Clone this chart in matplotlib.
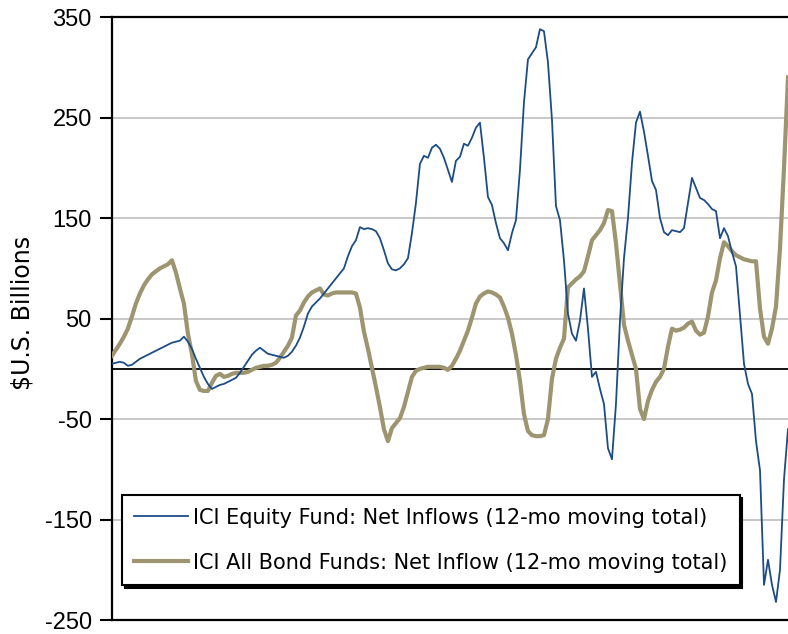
# -*- coding: utf-8 -*-

import numpy as np
import matplotlib.pyplot as plt

plt.rcParams['font.family'] = ['Liberation Sans', 'DejaVu Sans']
plt.rcParams['axes.unicode_minus'] = False

# 12-month moving totals, $ billions, evenly spaced in time
equity_flows = [5, 6, 7, 6, 3, 4, 7, 10, 12, 14,
                16, 18, 20, 22, 24, 26, 27, 28, 32, 27,
                20, 10, 1, -8, -15, -20, -18, -16, -15, -13,
                -11, -9, -4, 2, 8, 14, 18, 21, 18, 15,
                14, 13, 12, 11, 13, 17, 23, 31, 42, 55,
                62, 66, 70, 75, 80, 85, 90, 95, 100, 112,
                122, 128, 141, 139, 140, 139, 137, 130, 118, 105,
                99, 98, 100, 104, 110, 135, 165, 204, 212, 210,
                220, 223, 219, 210, 198, 186, 207, 211, 224, 222,
                230, 240, 245, 210, 171, 163, 145, 130, 125, 118,
                135, 148, 198, 265, 308, 314, 320, 338, 336, 305,
                248, 162, 148, 108, 55, 35, 28, 48, 80, 40,
                -8, -3, -20, -35, -79, -90, -35, 48, 110, 150,
                205, 245, 256, 236, 212, 187, 178, 150, 136, 133,
                138, 137, 136, 140, 165, 190, 180, 170, 168, 164,
                159, 157, 130, 140, 132, 116, 102, 54, 5, -15,
                -25, -72, -101, -215, -190, -215, -232, -200, -110, -60]

bond_flows = [13, 19, 25, 32, 40, 52, 65, 75, 83, 89,
              94, 97, 100, 102, 104, 108, 96, 80, 65, 35,
              15, -12, -21, -22, -22, -14, -7, -5, -8, -7,
              -5, -4, -4, -4, -3, -1, 1, 2, 3, 3,
              4, 6, 11, 17, 23, 31, 53, 58, 66, 72,
              76, 78, 80, 74, 73, 75, 76, 76, 76, 76,
              76, 75, 61, 37, 20, 1, -18, -38, -60, -72,
              -59, -54, -49, -38, -23, -8, -2, 0, 1, 2,
              2, 2, 2, 1, -1, 3, 10, 18, 28, 38,
              51, 65, 72, 75, 77, 76, 74, 71, 62, 51,
              35, 14, -12, -45, -62, -66, -67, -67, -66, -50,
              -10, 10, 21, 30, 81, 85, 89, 92, 97, 112,
              128, 133, 138, 145, 158, 157, 125, 85, 44, 28,
              14, 0, -40, -50, -32, -21, -13, -8, 0, 22,
              40, 38, 39, 41, 45, 47, 38, 34, 36, 52,
              76, 88, 110, 126, 122, 117, 113, 111, 109, 108,
              107, 107, 60, 32, 25, 40, 62, 120, 200, 290]

y_ticks = [-250, -150, -50, 50, 150, 250, 350]

equity_label = 'ICI Equity Fund: Net Inflows (12-mo moving total)'
bond_label = 'ICI All Bond Funds: Net Inflow (12-mo moving total)'

fontsize = 17
fig1 = plt.figure(figsize=(7.88, 6.34), dpi=100)
ax1_1 = fig1.add_axes([0.142, 0.022, 0.858, 0.951])

x_eq = np.arange(len(equity_flows))
x_bd = np.arange(len(bond_flows))

ax1_1.axhline(0, color='black', lw=1.3, zorder=2)
ax1_1.plot(x_eq, equity_flows, '-', color='#1d4c85', lw=1.3, label=equity_label, zorder=4)
ax1_1.plot(x_bd, bond_flows, '-', color='#9c956f', lw=3.0, label=bond_label, zorder=3)

ax1_1.set_xlim(0, len(equity_flows) - 1)
ax1_1.set_ylim(-250, 350)
ax1_1.set_yticks(y_ticks)
ax1_1.set_xticks([])
ax1_1.yaxis.grid(True, color='#c8c8c8', lw=1.4)
ax1_1.set_axisbelow(True)
ax1_1.tick_params(axis='y', labelsize=fontsize, length=8.5, width=1.5, direction='out', pad=6)
for side in ['left', 'top', 'bottom']:
    ax1_1.spines[side].set_linewidth(1.6)
ax1_1.spines['right'].set_visible(False)
ax1_1.set_ylabel('$U.S. Billions', fontsize=17, family='DejaVu Sans')
ax1_1.yaxis.set_label_coords(-0.114, 0.51)

leg = ax1_1.legend(loc='lower left', bbox_to_anchor=(0.0148, 0.058), borderaxespad=0,
                   prop={'family': 'DejaVu Sans', 'size': 15},
                   fancybox=False, edgecolor='black',
                   handlelength=2.55, handletextpad=0.25, labelspacing=1.2,
                   borderpad=0.6, framealpha=1,
                   shadow={'color': 'black', 'alpha': 1.0})
leg.get_frame().set_linewidth(1.5)

fig1.savefig('out.png', dpi=100)
